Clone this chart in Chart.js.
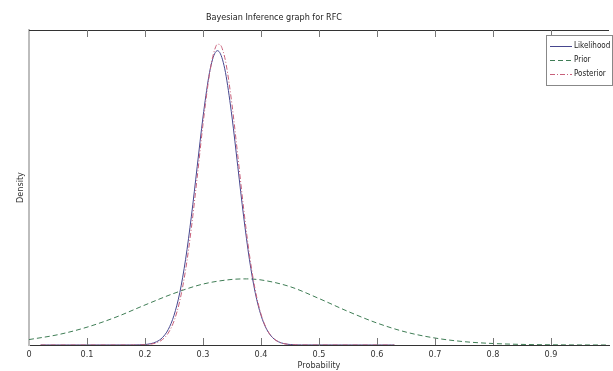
<!DOCTYPE html>
<html>
<head>
<meta charset="utf-8">
<script src="https://cdn.jsdelivr.net/npm/chart.js@4/dist/chart.umd.min.js"></script>
<style>
  html, body { margin: 0; padding: 0; background: #fff; }
  #wrap { width: 613px; height: 371px; }
</style>
</head>
<body>
<div id="wrap"><canvas id="myChart" width="613" height="371"></canvas></div>
<script>
// values
var narrowFont = "'Liberation Sans Narrow', 'DejaVu Sans Condensed', 'Liberation Sans', sans-serif";

var titleText = 'Bayesian Inference graph for RFC';
var xTickLabels = ['0', '0.1', '0.2', '0.3', '0.4', '0.5', '0.6', '0.7', '0.8', '0.9'];

// x positions for the likelihood and posterior curves
var peakX = [0.02, 0.18, 0.19, 0.20, 0.21, 0.22, 0.23, 0.24, 0.25, 0.26, 0.27, 0.28, 0.29, 0.30, 0.31,
             0.315, 0.32, 0.325, 0.33, 0.335, 0.34,
             0.35, 0.36, 0.37, 0.38, 0.39, 0.40, 0.41, 0.42, 0.43, 0.44, 0.45, 0.46, 0.47, 0.63];
var likelihood = [0, 0.002, 0.007, 0.019, 0.052, 0.127, 0.286, 0.597, 1.148, 2.03, 3.32, 4.99, 6.91, 8.83, 10.40,
                  10.94, 11.28, 11.40, 11.28, 10.94, 10.40,
                  8.83, 6.91, 4.99, 3.32, 2.03, 1.148, 0.597, 0.286, 0.127, 0.052, 0.019, 0.006, 0.002, 0];
var posterior = [0, 0.001, 0.004, 0.012, 0.034, 0.087, 0.209, 0.459, 0.927, 1.712, 2.91, 4.54, 6.50, 8.55, 10.31,
                 10.97, 11.43, 11.65, 11.62, 11.35, 10.86,
                 9.31, 7.33, 5.30, 3.51, 2.14, 1.195, 0.614, 0.289, 0.125, 0.050, 0.018, 0.006, 0.002, 0];

var priorX = [0, 0.05, 0.1, 0.15, 0.2, 0.25, 0.3, 0.35, 0.375, 0.4, 0.45, 0.5, 0.55, 0.6, 0.65, 0.7, 0.75, 0.8,
              0.85, 0.9, 0.95, 1.0];
var prior = [0.21, 0.40, 0.69, 1.08, 1.55, 2.00, 2.36, 2.54, 2.56, 2.52, 2.26, 1.80, 1.30, 0.85, 0.50, 0.27,
             0.13, 0.058, 0.023, 0.009, 0.003, 0.001];

function pairs(xs, ys) {
    return xs.map(function (x, i) { return {x: x, y: ys[i]}; });
}

// MATLAB style box: top border, inward ticks, title and boxed legend
var matlabBox = {
    id: 'matlabBox',
    afterDraw: function (chart) {
        var ctx = chart.ctx;
        var area = chart.chartArea;
        var xs = chart.scales.x;
        ctx.save();
        // top border
        ctx.strokeStyle = '#333';
        ctx.lineWidth = 1;
        ctx.beginPath();
        ctx.moveTo(area.left, area.top + 0.5);
        ctx.lineTo(area.right, area.top + 0.5);
        ctx.stroke();
        // inward tick marks
        ctx.strokeStyle = '#777';
        ctx.beginPath();
        xs.ticks.forEach(function (t) {
            if (t.value <= 0 || t.value >= 1) return;
            var px = Math.round(xs.getPixelForValue(t.value)) + 0.5;
            ctx.moveTo(px, area.bottom);
            ctx.lineTo(px, area.bottom - 7);
            ctx.moveTo(px, area.top);
            ctx.lineTo(px, area.top + 7);
        });
        ctx.stroke();

        // title
        ctx.fillStyle = '#222';
        ctx.font = '9px ' + narrowFont;
        ctx.textAlign = 'center';
        ctx.textBaseline = 'middle';
        ctx.fillText(titleText, 274, 18);

        // legend
        var bx = 546.5, by = 35.5, bw = 66, bh = 50;
        ctx.fillStyle = '#fff';
        ctx.fillRect(bx, by, bw, bh);
        ctx.strokeStyle = '#888';
        ctx.strokeRect(bx, by, bw, bh);
        ctx.textAlign = 'left';
        ctx.font = '8px ' + narrowFont;
        chart.data.datasets.forEach(function (ds, i) {
            var ly = 46 + i * 14;
            ctx.strokeStyle = ds.borderColor;
            ctx.lineWidth = 1;
            ctx.setLineDash(ds.borderDash || []);
            ctx.beginPath();
            ctx.moveTo(550, ly + 0.5);
            ctx.lineTo(572, ly + 0.5);
            ctx.stroke();
            ctx.setLineDash([]);
            ctx.fillStyle = '#222';
            ctx.fillText(ds.label, 574, ly);
        });
        ctx.restore();
    }
};

var ctx = document.getElementById('myChart').getContext('2d');
var chart = new Chart(ctx, {
    type: 'line',
    data: {
        datasets: [
        {
            label: 'Likelihood',
            data: pairs(peakX, likelihood),
            borderColor: '#46468e',
            borderWidth: 1,
            cubicInterpolationMode: 'monotone',
            order: 2
        },
        {
            label: 'Prior',
            data: pairs(priorX, prior),
            borderColor: '#3f7d55',
            borderWidth: 1,
            borderDash: [5, 3],
            cubicInterpolationMode: 'monotone',
            order: 3
        },
        {
            label: 'Posterior',
            data: pairs(peakX, posterior),
            borderColor: '#c8607a',
            borderWidth: 1,
            borderDash: [5, 2, 1, 2],
            cubicInterpolationMode: 'monotone',
            order: 1
        }
    ]},
    options: {
        responsive: false,
        animation: false,
        layout: { padding: { top: 30, right: 1, left: 0, bottom: 0 } },
        elements: { point: { radius: 0 } },
        plugins: {
            legend: { display: false },
            title: { display: false },
            tooltip: { enabled: false }
        },
        scales: {
            x: {
                type: 'linear',
                min: 0,
                max: 1,
                grid: { display: false, drawTicks: false },
                border: { display: true, color: '#333', width: 1 },
                ticks: {
                    stepSize: 0.1,
                    padding: 4,
                    color: '#333',
                    font: { family: narrowFont, size: 9 },
                    maxRotation: 0,
                    autoSkip: false,
                    callback: function (v, i) { return xTickLabels[i] !== undefined ? xTickLabels[i] : ''; }
                },
                title: {
                    display: true,
                    text: 'Probability',
                    color: '#333',
                    font: { family: narrowFont, size: 9 },
                    padding: { top: 0, bottom: 0 }
                },
                afterFit: function (scale) { scale.height = 26; }
            },
            y: {
                min: 0,
                max: 12.2,
                grid: { display: false, drawTicks: false },
                border: { display: true, color: '#bdbdbd', width: 2 },
                ticks: { display: false },
                title: {
                    display: true,
                    text: 'Density',
                    color: '#333',
                    font: { family: narrowFont, size: 9 },
                    padding: { top: 15, bottom: 0 }
                },
                afterFit: function (scale) { scale.width = 29; }
            }
        }
    },
    plugins: [matlabBox]
});
</script>
</body>
</html>
